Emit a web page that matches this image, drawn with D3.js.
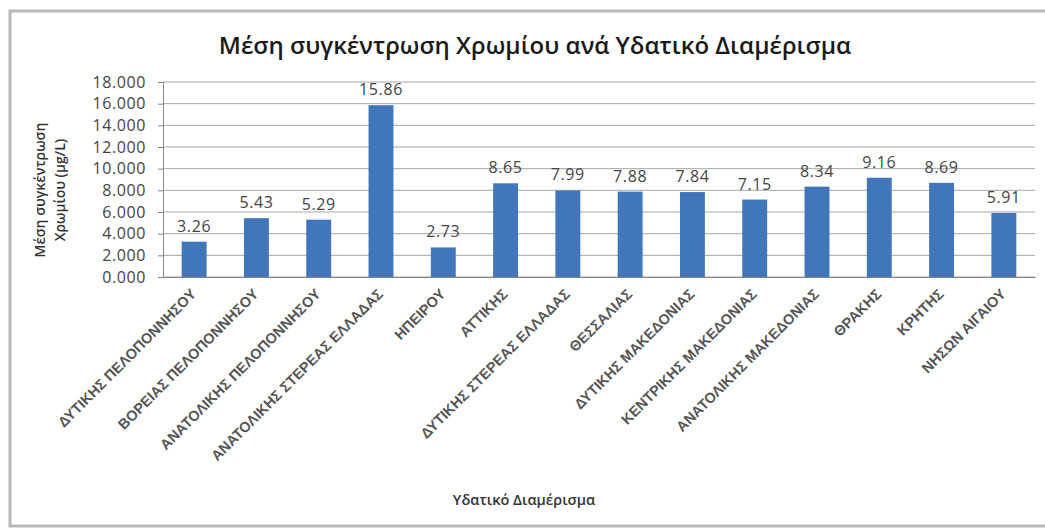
<!DOCTYPE html>
<html><head><meta charset="utf-8">
<script src="https://cdn.jsdelivr.net/npm/d3@7"></script>
<style>
html,body{margin:0;padding:0;background:#fff;}
svg{display:block;font-family:"Open Sans",sans-serif;}
</style></head>
<body>
<script>
const categories = ["ΔΥΤΙΚΗΣ ΠΕΛΟΠΟΝΝΗΣΟΥ","ΒΟΡΕΙΑΣ ΠΕΛΟΠΟΝΝΗΣΟΥ","ΑΝΑΤΟΛΙΚΗΣ ΠΕΛΟΠΟΝΝΗΣΟΥ","ΑΝΑΤΟΛΙΚΗΣ ΣΤΕΡΕΑΣ ΕΛΛΑΔΑΣ","ΗΠΕΙΡΟΥ","ΑΤΤΙΚΗΣ","ΔΥΤΙΚΗΣ ΣΤΕΡΕΑΣ ΕΛΛΑΔΑΣ","ΘΕΣΣΑΛΙΑΣ","ΔΥΤΙΚΗΣ ΜΑΚΕΔΟΝΙΑΣ","ΚΕΝΤΡΙΚΗΣ ΜΑΚΕΔΟΝΙΑΣ","ΑΝΑΤΟΛΙΚΗΣ ΜΑΚΕΔΟΝΙΑΣ","ΘΡΑΚΗΣ","ΚΡΗΤΗΣ","ΝΗΣΩΝ ΑΙΓΑΙΟΥ"];
const values = [3.26,5.43,5.29,15.86,2.73,8.65,7.99,7.88,7.84,7.15,8.34,9.16,8.69,5.91];
const yTicks = [0,2,4,6,8,10,12,14,16,18];
const yTickLabels = ["0.000","2.000","4.000","6.000","8.000","10.000","12.000","14.000","16.000","18.000"];
const title = "Μέση συγκέντρωση Χρωμίου ανά Υδατικό Διαμέρισμα";
const yTitle = ["Μέση συγκέντρωση","Χρωμίου (μg/L)"];
const xTitle = "Υδατικό Διαμέρισμα";

(function () {
const W = 1045, H = 529;
const svg = d3.select("body").append("svg").attr("width", W).attr("height", H);

// outer frame
svg.append("rect").attr("x", 10).attr("y", 11).attr("width", W + 10).attr("height", H - 14)
  .attr("fill", "#fff").attr("stroke", "#b8b8b8").attr("stroke-width", 3);

const pLeft = 163, pRight = 1035, pTop = 82, pBottom = 277;
const x = d3.scaleBand().domain(categories).range([pLeft, pRight]).paddingInner(0.6).paddingOuter(0.3);
const y = d3.scaleLinear().domain([0, 18]).range([pBottom, pTop]);

// gridlines
svg.append("g").selectAll("line").data(yTicks).join("line")
  .attr("x1", pLeft).attr("x2", pRight)
  .attr("y1", d => y(d)).attr("y2", d => y(d))
  .attr("stroke", "#a6a6a6").attr("stroke-width", 1);

// y axis
const yAxis = svg.append("g").attr("transform", `translate(${pLeft},0)`)
  .call(d3.axisLeft(y).tickValues(yTicks).tickFormat((d, i) => yTickLabels[i]).tickSize(5).tickPadding(12));
yAxis.select(".domain").attr("stroke", "#868686");
yAxis.selectAll(".tick line").attr("stroke", "#868686");
yAxis.selectAll("text").attr("font-size", 16).attr("fill", "#444").attr("font-family", "Open Sans")
  .attr("letter-spacing", 0.6);

// bars
svg.append("g").selectAll("rect").data(values).join("rect")
  .attr("x", (d, i) => x(categories[i]))
  .attr("width", x.bandwidth())
  .attr("y", d => y(d))
  .attr("height", d => pBottom - y(d))
  .attr("fill", "#4176ba");

// value labels
svg.append("g").selectAll("text").data(values).join("text")
  .attr("x", (d, i) => x(categories[i]) + x.bandwidth() / 2)
  .attr("y", d => y(d) - 10)
  .attr("text-anchor", "middle")
  .attr("font-size", 16).attr("letter-spacing", 0.6).attr("fill", "#444")
  .text(d => d.toFixed(2));

// x axis
const xAxis = svg.append("g").attr("transform", `translate(0,${pBottom})`)
  .call(d3.axisBottom(x).tickSize(0).tickPadding(0));
xAxis.select(".domain").attr("stroke", "#868686");
xAxis.selectAll(".tick text")
  .attr("font-size", 14.5).attr("font-weight", 600).attr("fill", "#555")
  .attr("text-anchor", "end").attr("dy", 0)
  .attr("transform", "translate(3,18) rotate(-45)");

// title
svg.append("text").attr("x", 535).attr("y", 54).attr("text-anchor", "middle")
  .attr("font-size", 24).attr("font-weight", 600).attr("fill", "#1a1a1a").text(title);

// y title
const yt = svg.append("text").attr("transform", "translate(0,190) rotate(-90)")
  .attr("text-anchor", "middle").attr("font-size", 14).attr("font-weight", 600).attr("fill", "#333");
yt.append("tspan").attr("x", 0).attr("y", 45).text(yTitle[0]);
yt.append("tspan").attr("x", 0).attr("y", 65).text(yTitle[1]);

// x title
svg.append("text").attr("x", 524).attr("y", 505).attr("text-anchor", "middle")
  .attr("font-size", 14.5).attr("font-weight", 600).attr("fill", "#333").text(xTitle);
})();
</script>
</body></html>
